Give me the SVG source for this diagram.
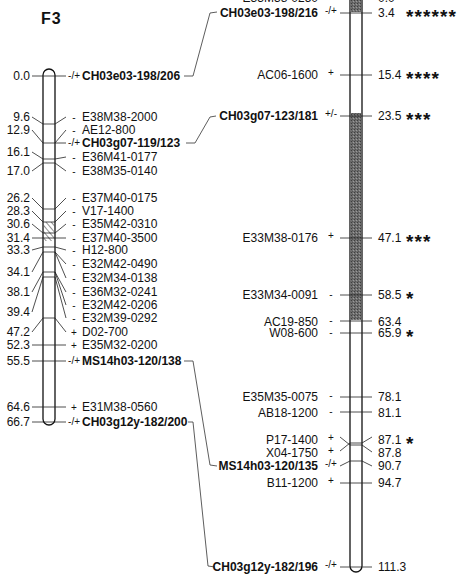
<svg xmlns="http://www.w3.org/2000/svg" width="462" height="575" viewBox="0 0 462 575">
<style>
text{font-family:"Liberation Sans",Arial,sans-serif;font-size:12px;fill:#111}
.b{font-weight:bold}
.n{text-anchor:end}
.r{text-anchor:end}
.s{font-size:10px;text-anchor:middle}
.se{font-size:10px;text-anchor:end}
.ast{font-size:19px;font-weight:bold;letter-spacing:1.1px}
.t{stroke:#222;stroke-width:0.8;fill:none}
.c{stroke:#333;stroke-width:0.8;fill:none}
.chr{fill:#fff;stroke:#111;stroke-width:1.3}
</style>
<defs>
<pattern id="hatch" width="4" height="4" patternUnits="userSpaceOnUse" patternTransform="rotate(-40)">
<line x1="0" y1="0" x2="0" y2="4" stroke="#222" stroke-width="1"/>
</pattern>
<pattern id="stip" width="3" height="3" patternUnits="userSpaceOnUse">
<rect width="3" height="3" fill="#6e6e6e"/>
<rect x="0" y="0" width="1" height="1" fill="#3e3e3e"/>
<rect x="2" y="1" width="1" height="1" fill="#9a9a9a"/>
<rect x="1" y="2" width="1" height="1" fill="#555"/>
</pattern>
</defs>

<text x="41" y="24" class="b" style="font-size:16px;letter-spacing:1px">F3</text>

<g id="chromosome-left">
<rect class="chr" x="43" y="69" width="12" height="356" rx="6"/>
<rect x="43.7" y="222" width="10.6" height="19" fill="url(#hatch)"/>
<g class="t">
<line x1="43" y1="76" x2="55" y2="76"/>
<line x1="43" y1="124" x2="55" y2="124"/>
<line x1="43" y1="143" x2="55" y2="143"/>
<line x1="43" y1="159" x2="55" y2="159"/>
<line x1="43" y1="163" x2="55" y2="163"/>
<line x1="43" y1="209" x2="55" y2="209"/>
<line x1="43" y1="222" x2="55" y2="222"/>
<line x1="43" y1="233" x2="55" y2="233"/>
<line x1="43" y1="238" x2="55" y2="238"/>
<line x1="43" y1="247" x2="55" y2="247"/>
<line x1="43" y1="252" x2="55" y2="252"/>
<line x1="43" y1="272" x2="55" y2="272"/>
<line x1="43" y1="277" x2="55" y2="277"/>
<line x1="43" y1="318" x2="55" y2="318"/>
<line x1="43" y1="345" x2="55" y2="345"/>
<line x1="43" y1="361" x2="55" y2="361"/>
<line x1="43" y1="407" x2="55" y2="407"/>
<line x1="43" y1="422" x2="55" y2="422"/>
</g>
</g>

<g id="left-ticks" class="t">
<line x1="32" y1="76" x2="43" y2="76"/>
<line x1="32" y1="117" x2="43" y2="124"/>
<line x1="32" y1="130" x2="43" y2="143"/>
<line x1="32" y1="152" x2="43" y2="159"/>
<line x1="32" y1="171" x2="43" y2="163"/>
<line x1="32" y1="198" x2="43" y2="209"/>
<line x1="32" y1="211" x2="43" y2="222"/>
<line x1="32" y1="224" x2="43" y2="233"/>
<line x1="32" y1="238" x2="43" y2="238"/>
<line x1="32" y1="250" x2="43" y2="247"/>
<line x1="32" y1="272" x2="43" y2="252"/>
<line x1="32" y1="292" x2="43" y2="272"/>
<line x1="32" y1="312" x2="43" y2="277"/>
<line x1="32" y1="332" x2="43" y2="318"/>
<line x1="32" y1="345" x2="43" y2="345"/>
<line x1="32" y1="361" x2="43" y2="361"/>
<line x1="32" y1="407" x2="43" y2="407"/>
<line x1="32" y1="422" x2="43" y2="422"/>
<line x1="55" y1="76" x2="66" y2="76"/>
<line x1="55" y1="124" x2="66" y2="117"/>
<line x1="55" y1="143" x2="66" y2="130"/>
<line x1="55" y1="143" x2="66" y2="143"/>
<line x1="55" y1="159" x2="66" y2="157"/>
<line x1="55" y1="163" x2="66" y2="171"/>
<line x1="55" y1="209" x2="66" y2="198"/>
<line x1="55" y1="222" x2="66" y2="211"/>
<line x1="55" y1="233" x2="66" y2="224"/>
<line x1="55" y1="238" x2="66" y2="238"/>
<line x1="55" y1="247" x2="66" y2="250"/>
<line x1="55" y1="252" x2="66" y2="264"/>
<line x1="55" y1="252" x2="66" y2="278"/>
<line x1="55" y1="272" x2="66" y2="292"/>
<line x1="55" y1="272" x2="66" y2="305"/>
<line x1="55" y1="277" x2="66" y2="318"/>
<line x1="55" y1="318" x2="66" y2="332"/>
<line x1="55" y1="345" x2="66" y2="345"/>
<line x1="55" y1="361" x2="66" y2="361"/>
<line x1="55" y1="407" x2="66" y2="407"/>
<line x1="55" y1="422" x2="66" y2="422"/>
</g>

<g id="left-numbers">
<text class="n" x="30" y="80">0.0</text>
<text class="n" x="30" y="121">9.6</text>
<text class="n" x="30" y="134">12.9</text>
<text class="n" x="30" y="156">16.1</text>
<text class="n" x="30" y="175">17.0</text>
<text class="n" x="30" y="202">26.2</text>
<text class="n" x="30" y="215">28.3</text>
<text class="n" x="30" y="228">30.6</text>
<text class="n" x="30" y="242">31.4</text>
<text class="n" x="30" y="254">33.3</text>
<text class="n" x="30" y="276">34.1</text>
<text class="n" x="30" y="296">38.1</text>
<text class="n" x="30" y="316">39.4</text>
<text class="n" x="30" y="336">47.2</text>
<text class="n" x="30" y="349">52.3</text>
<text class="n" x="30" y="365">55.5</text>
<text class="n" x="30" y="411">64.6</text>
<text class="n" x="30" y="426">66.7</text>
</g>

<g id="left-markers">
<text class="se" x="80" y="79">-/+</text><text class="b" x="82" y="80">CH03e03-198/206</text>
<text class="s" x="74" y="121">-</text><text x="82" y="121">E38M38-2000</text>
<text class="s" x="74" y="134">-</text><text x="82" y="134">AE12-800</text>
<text class="se" x="80" y="146">-/+</text><text class="b" x="82" y="147">CH03g07-119/123</text>
<text class="s" x="74" y="161">-</text><text x="82" y="161">E36M41-0177</text>
<text class="s" x="74" y="175">-</text><text x="82" y="175">E38M35-0140</text>
<text class="s" x="74" y="202">-</text><text x="82" y="202">E37M40-0175</text>
<text class="s" x="74" y="215">-</text><text x="82" y="215">V17-1400</text>
<text class="s" x="74" y="228">-</text><text x="82" y="228">E35M42-0310</text>
<text class="s" x="74" y="242">-</text><text x="82" y="242">E37M40-3500</text>
<text class="s" x="74" y="254">-</text><text x="82" y="254">H12-800</text>
<text class="s" x="74" y="268">-</text><text x="82" y="268">E32M42-0490</text>
<text class="s" x="74" y="282">-</text><text x="82" y="282">E32M34-0138</text>
<text class="s" x="74" y="296">-</text><text x="82" y="296">E36M32-0241</text>
<text class="s" x="74" y="309">-</text><text x="82" y="309">E32M42-0206</text>
<text class="s" x="74" y="322">-</text><text x="82" y="322">E32M39-0292</text>
<text class="s" x="74" y="336">+</text><text x="82" y="336">D02-700</text>
<text class="s" x="74" y="349">+</text><text x="82" y="349">E35M32-0200</text>
<text class="se" x="80" y="364">-/+</text><text class="b" x="82" y="365">MS14h03-120/138</text>
<text class="s" x="74" y="411">+</text><text x="82" y="411">E31M38-0560</text>
<text class="se" x="80" y="425">-/+</text><text class="b" x="82" y="426">CH03g12y-182/200</text>
</g>

<g id="connectors" class="c">
<polyline points="184,76 193,76 210,13 217,12"/>
<polyline points="186,143 195,143 210,117 216,116"/>
<polyline points="184,361 193,361 210,465 217,466"/>
<polyline points="188,422 193,422 208,566 215,567"/>
</g>

<g id="chromosome-right">
<rect class="chr" x="350" y="-20" width="12" height="592" rx="6"/>
<rect x="350.7" y="-5" width="10.6" height="17" fill="url(#stip)"/>
<rect x="350.7" y="113" width="10.6" height="207" fill="url(#stip)"/>
<g class="t">
<line x1="340" y1="-1" x2="372" y2="-1"/>
<line x1="340" y1="13" x2="372" y2="13"/>
<line x1="340" y1="75" x2="372" y2="75"/>
<line x1="340" y1="116" x2="372" y2="116"/>
<line x1="340" y1="238" x2="372" y2="238"/>
<line x1="340" y1="295" x2="372" y2="295"/>
<line x1="340" y1="321" x2="372" y2="321"/>
<line x1="340" y1="333" x2="372" y2="333"/>
<line x1="340" y1="397" x2="372" y2="397"/>
<line x1="340" y1="412" x2="372" y2="412"/>
<polyline points="340,437 350,445 362,445 372,452"/>
<polyline points="340,451 350,443 362,443 372,437"/>
<polyline points="340,466 350,461 362,461 372,466"/>
<line x1="340" y1="483" x2="372" y2="483"/>
<line x1="340" y1="567" x2="372" y2="567"/>
</g>
</g>

<g id="right-markers">
<text class="r" x="318" y="2">E33M38-0250</text><text x="378" y="2">0.0</text><text class="ast" x="406" y="6">******</text>
<text class="s" x="331" y="14">-/+</text><text class="r b" x="318" y="17">CH03e03-198/216</text><text x="378" y="17">3.4</text><text class="ast" x="406" y="23">******</text>
<text class="s" x="331" y="76">+</text><text class="r" x="318" y="79">AC06-1600</text><text x="378" y="79">15.4</text><text class="ast" x="406" y="85">****</text>
<text class="s" x="331" y="117">+/-</text><text class="r b" x="318" y="120">CH03g07-123/181</text><text x="378" y="120">23.5</text><text class="ast" x="406" y="126">***</text>
<text class="s" x="331" y="239">+</text><text class="r" x="318" y="242">E33M38-0176</text><text x="378" y="242">47.1</text><text class="ast" x="406" y="248">***</text>
<text class="s" x="331" y="298">-</text><text class="r" x="318" y="299">E33M34-0091</text><text x="378" y="299">58.5</text><text class="ast" x="406" y="305">*</text>
<text class="s" x="331" y="324">-</text><text class="r" x="318" y="326">AC19-850</text><text x="378" y="326">63.4</text>
<text class="s" x="331" y="336">-</text><text class="r" x="318" y="337">W08-600</text><text x="378" y="337">65.9</text><text class="ast" x="406" y="343">*</text>
<text class="s" x="331" y="399">-</text><text class="r" x="318" y="401">E35M35-0075</text><text x="378" y="401">78.1</text>
<text class="s" x="331" y="415">-</text><text class="r" x="318" y="417">AB18-1200</text><text x="378" y="417">81.1</text>
<text class="s" x="331" y="441">+</text><text class="r" x="318" y="444">P17-1400</text><text x="378" y="444">87.1</text><text class="ast" x="406" y="450">*</text>
<text class="s" x="331" y="454">+</text><text class="r" x="318" y="457">X04-1750</text><text x="378" y="457">87.8</text>
<text class="s" x="331" y="467">-/+</text><text class="r b" x="318" y="470">MS14h03-120/135</text><text x="378" y="470">90.7</text>
<text class="s" x="331" y="484">+</text><text class="r" x="318" y="487">B11-1200</text><text x="378" y="487">94.7</text>
<text class="s" x="331" y="568">-/+</text><text class="r b" x="318" y="571">CH03g12y-182/196</text><text x="378" y="571">111.3</text>
</g>
</svg>
